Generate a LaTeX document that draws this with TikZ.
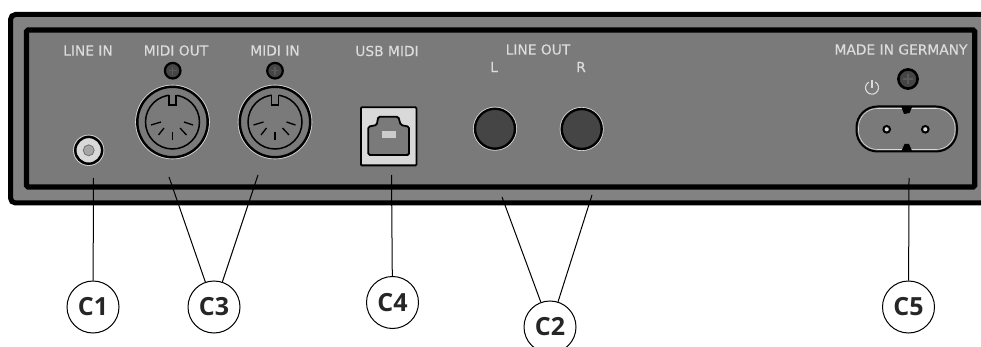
\documentclass[tikz,border=0pt]{standalone}
\usepackage{fontspec}
\setmainfont[FakeBold=0.25]{DejaVu Sans}
\newfontfamily\calloutfont{Open Sans}
\definecolor{casegray}{HTML}{828282}
\definecolor{panelgray}{HTML}{7A7A7A}
\definecolor{jackdark}{HTML}{454545}
\definecolor{labelgray}{HTML}{DCDCDC}
\tikzset{
    paneltext/.style={text=labelgray, font=\fontsize{13.8}{15}\selectfont, inner sep=0pt},
    callout/.style={draw, circle, line width=1pt, fill=white, minimum size=52pt, inner sep=0pt, font=\calloutfont\bfseries\fontsize{25}{27}\selectfont, text=black!85},
    leader/.style={-, color=black, line width=1pt},
    halo/.style={draw=white!85!black, line width=0.6pt},
    ringline/.style={draw=black, line width=2.4pt},
    pinline/.style={-, color=black, line width=1.3pt},
    crossline/.style={-, draw=gray!70!black, line width=1.3pt},
}
\begin{document}
\begin{tikzpicture}[x=1pt, y=-1pt]
        \clip (0,0) rectangle (981,347);
        
        % Painel
        \draw [fill=casegray, draw=black, line width=5pt, rounded corners=5pt] (1000,14.5)--(10.5,14.5)--(10.5,203)--(1000,203);
        \draw [fill=panelgray, draw=black, line width=5.2pt, rounded corners=1.5pt] (26.5,30) rectangle (974.7,187);
        
        % Line in
        \filldraw [fill=white!85!black, ringline] (88.7,150.3) circle (13.4);
        \draw [halo] (88.7,150.3) circle (15.3);
        \filldraw [fill=gray!70!white, draw=gray!90!black, line width=0.8pt] (88.7,150.3) circle (5.5);
        
        % MIDI out
        \filldraw [fill=panelgray, ringline] (172.5,122) circle (35.2);
        \draw [halo] (172.5,122) circle (37);
        \draw [draw=black, line width=1.5pt] (172.5,122) circle (27);
        \filldraw [fill=panelgray, draw=panelgray] (169.5,93) rectangle (175.9,104);
        \draw [draw=black, line width=1.3pt] (169,95)--(169,105)--(176,105)--(176,95);
        \draw [pinline] (172.5,132)--(172.5,140);
        \draw [pinline] (164,128)--(158.5,135);
        \draw [pinline] (180,128)--(186.5,135);
        \draw [pinline] (161,122)--(151,125);
        \draw [pinline] (184,122)--(193,125);
        
        % MIDI in
        \filldraw [fill=panelgray, ringline] (275,122) circle (35.2);
        \draw [halo] (275,122) circle (37);
        \draw [draw=black, line width=1.5pt] (275,122) circle (27);
        \filldraw [fill=panelgray, draw=panelgray] (272,93) rectangle (278.4,104);
        \draw [draw=black, line width=1.3pt] (271.5,95)--(271.5,105)--(278.5,105)--(278.5,95);
        \draw [pinline] (275,132)--(275,140);
        \draw [pinline] (266.5,128)--(261,135);
        \draw [pinline] (282.5,128)--(289,135);
        \draw [pinline] (263.5,122)--(253.5,125);
        \draw [pinline] (286.5,122)--(295.5,125);
        
        % Parafusos
        \filldraw [fill=jackdark, draw=black, line width=2.2pt] (172.7,70.7) circle (7.8);
        \draw [crossline] (168.7,70.7)--(176.7,70.7);
        \draw [crossline] (172.7,66.7)--(172.7,74.7);
        \filldraw [fill=jackdark, draw=black, line width=2.2pt] (275,70.7) circle (7.8);
        \draw [crossline] (271,70.7)--(279,70.7);
        \draw [crossline] (275,66.7)--(275,74.7);
        \filldraw [fill=jackdark, draw=black, line width=2.6pt] (908,79) circle (9.6);
        \draw [crossline] (903,79)--(913,79);
        \draw [crossline] (908,74)--(908,84);
        
        % USB
        \filldraw [fill=white!85!black, draw=black, line width=1.8pt, rounded corners=1pt] (360.9,107.3) rectangle (416.5,165.4);
        \filldraw [fill=panelgray, draw=black, line width=1.8pt, rounded corners=1.5pt] (368.3,155)--(368.3,126.7)--(376.7,125)--(378.3,116.7)--(398.3,116.7)--(400.7,125)--(409,126.7)--(409,155)--cycle;
        \fill [white!80!black] (381.7,130.7) rectangle (395.7,138.3);
        
        % Line out
        \filldraw [fill=jackdark, ringline] (495,128.7) circle (20);
        \draw [halo] (495,128.7) circle (21.7);
        \filldraw [fill=jackdark, ringline] (581.7,129) circle (20);
        \draw [halo] (581.7,129) circle (21.7);
        
        % Alimentacao
        \draw [draw=black, line width=2pt, rounded corners=21pt] (856.5,106.5) rectangle (957,151.5);
        \draw [halo, rounded corners=19pt] (858.5,108.5) rectangle (955,149.5);
        \fill [black] (901,106)--(912.5,106)--(909.5,113)--(904,114)--cycle;
        \fill [black] (901,152)--(912.5,152)--(909,144)--(904.5,144)--cycle;
        \filldraw [fill=white!85!black, draw=black, line width=2pt] (886.7,129.3) circle (3.3);
        \filldraw [fill=white!85!black, draw=black, line width=2pt] (925.3,129.3) circle (3.3);
        \draw [draw=labelgray, line width=1.1pt] (875.25,82.07) arc (300:600:6.5);
        \draw [-, draw=labelgray, line width=1.1pt] (872,80.5)--(872,88);
        
        % Linhas
        \node[callout] (C1) at (93,307) {C1};
        \node[callout] (C3) at (214,307) {C3};
        \node[callout] (C4) at (392.5,302.5) {C4};
        \node[callout] (C2) at (550,327) {C2};
        \node[callout] (C5) at (908.5,307) {C5};
        
        \coordinate (linein) at (93.5,178);
        \coordinate (midiout) at (169,177);
        \coordinate (midiin) at (258,175);
        \coordinate (usbmidi) at (391.5,175);
        \coordinate (lineoutl) at (502,197);
        \coordinate (lineoutr) at (592,195);
        \coordinate (power) at (909,178);
        
        \draw [leader] (linein)--(C1);
        \draw [leader] (midiout)--(C3);
        \draw [leader] (midiin)--(C3);
        \draw [leader] (usbmidi)--(C4);
        \draw [leader] (lineoutl)--(C2);
        \draw [leader] (lineoutr)--(C2);
        \draw [leader] (power)--(C5);
        
        %\path
        \node[paneltext] (lblin) at (88,50.5) {LINE IN};
        \node[paneltext] (lblmidiout) at (176,50.5) {MIDI OUT};
        \node[paneltext] (lblmidiin) at (275,50.5) {MIDI IN};
        \node[paneltext] (lblusb) at (387,51) {USB MIDI};
        \node[paneltext] (lblout) at (538,49.5) {LINE OUT};
        \node[paneltext] (lbll) at (494,67) {L};
        \node[paneltext] (lblr) at (581,67) {R};
        \node[paneltext] (lblmade) at (901,49.5) {MADE IN GERMANY};
        
    \end{tikzpicture}
\end{document}
